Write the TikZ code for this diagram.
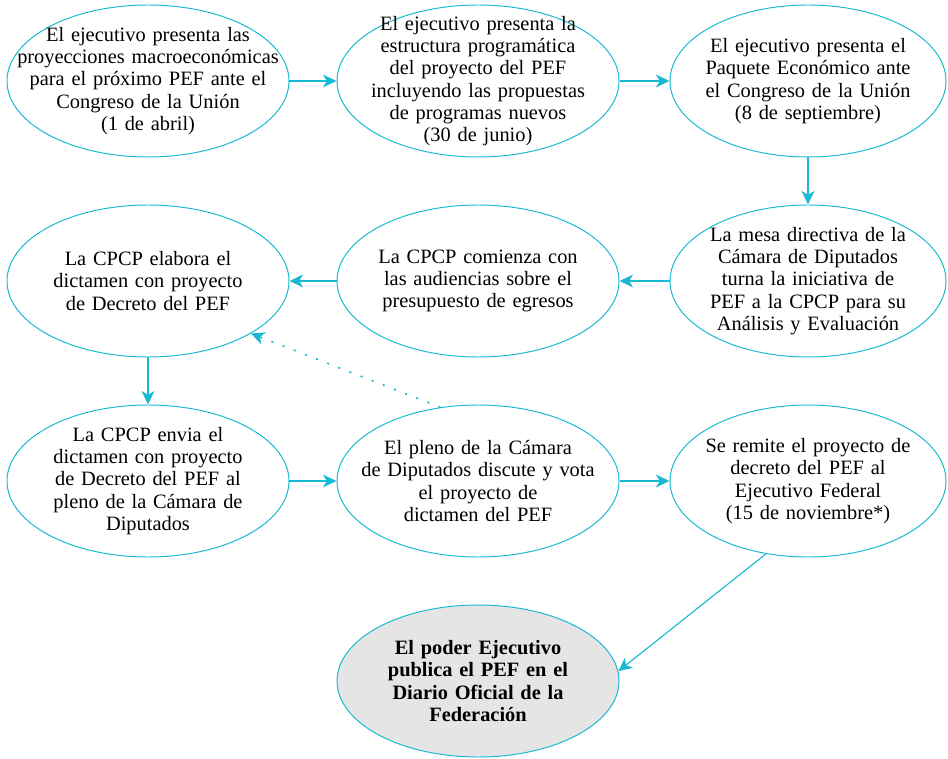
\documentclass[tikz,border=0pt]{standalone}
\usepackage{fontspec}
\setmainfont{Liberation Serif}
\usepackage{tikz}
\usetikzlibrary{arrows.meta,positioning,shapes.geometric}
\definecolor{turquesa}{RGB}{25,185,210}

\begin{document}
\begin{tikzpicture}[node distance=5cm and 8.25cm,on grid,
    main node/.style={ellipse,draw=turquesa,line width=0.7pt,align=center,text width=7cm,
        inner xsep=-1.2cm,inner ysep=-1cm,minimum width=7.05cm,minimum height=3.8cm,
        font=\fontsize{14.5}{15.8}\selectfont},
    side node/.style={main node,minimum width=6.9cm},
    flecha/.style={color=turquesa,line width=0.8pt,-{Stealth[length=3.4mm,width=3.2mm,inset=1mm]}},
    punteada/.style={flecha,line width=1.1pt,dash pattern=on 1.5pt off 7pt}]
    \useasboundingbox (0,0) rectangle (23.7,-18.975);
    % \node[style] (id) [placement] {texto};
    \node[main node] (1) at (3.7,-2.025) {El ejecutivo presenta las\\ proyecciones macroeconómicas\\ para el próximo PEF ante el\\ Congreso de la Unión\\ (1 de abril)};
    \node[main node] (2) [right=of 1] {El ejecutivo presenta la\\ estructura programática\\ del proyecto del PEF\\ incluyendo las propuestas\\ de programas nuevos\\ (30 de junio)};
    \node[side node] (3) [right=of 2] {El ejecutivo presenta el\\ Paquete Económico ante\\ el Congreso de la Unión\\ (8 de septiembre)};
    \node[side node] (6) [below=of 3] {La mesa directiva de la\\ Cámara de Diputados\\ turna la iniciativa de\\ PEF a la CPCP para su\\ Análisis y Evaluación};
    \node[main node] (5) [left=of 6] {La CPCP comienza con\\ las audiencias sobre el\\ presupuesto de egresos};
    \node[main node] (4) [left=of 5] {La CPCP elabora el\\ dictamen con proyecto\\ de Decreto del PEF};
    \node[main node] (7) [below=of 4] {La CPCP envia el\\ dictamen con proyecto\\ de Decreto del PEF al\\ pleno de la Cámara de\\ Diputados};
    \node[main node] (8) [right=of 7] {El pleno de la Cámara\\ de Diputados discute y vota\\ el proyecto de\\ dictamen del PEF};
    \node[side node] (9) [right=of 8] {Se remite el proyecto de\\ decreto del PEF al\\ Ejecutivo Federal\\ (15 de noviembre*)};
    \node[main node,fill=black!10] (10) [below=of 8] {\bfseries El poder Ejecutivo\\ \bfseries publica el PEF en el\\ \bfseries Diario Oficial de la\\ \bfseries Federación};

    \path[flecha]
    (1) edge (2)
    (2) edge (3)
    (3) edge (6)
    (6) edge (5)
    (5) edge (4)
    (4) edge (7)
    (7) edge (8)
    (8) edge (9)
    (9.240) edge (10.4);
    \path[punteada] (8.117) edge (4.-27);
\end{tikzpicture}
\end{document}
